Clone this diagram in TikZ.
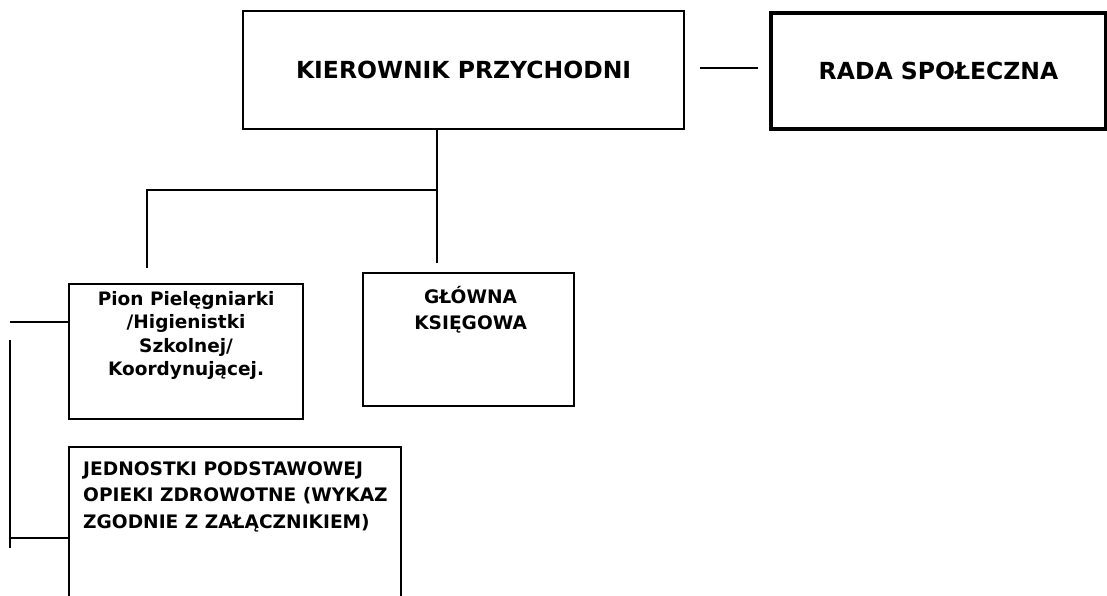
\documentclass[tikz,border=0pt]{standalone}
\usepackage{fontspec}
\setmainfont{DejaVu Sans}
\usetikzlibrary{calc}
\begin{document}
\begin{tikzpicture}[x=1pt,y=-1pt,
  box/.style={draw=black,line width=2.2pt,inner sep=0pt,anchor=north west},
  thickbox/.style={box,line width=4pt},
  conn/.style={draw=black,line width=2.2pt},
  bigtxt/.style={font=\fontsize{23.5}{26}\selectfont\bfseries},
  midtxt/.style={font=\fontsize{18.5}{23.5}\selectfont\bfseries,align=center,inner sep=0pt},
  captxt/.style={font=\fontsize{18.6}{26.5}\selectfont\bfseries,align=left,inner sep=0pt}]
\useasboundingbox[fill=white] (0,0) rectangle (1107,596);
\clip (0,0) rectangle (1107,596);
% boxes
\node[box,minimum width=441pt,minimum height=118pt] (k) at (242,10) {};
\node[bigtxt] (kt) at (k.center) {KIEROWNIK PRZYCHODNI};
\node[thickbox,minimum width=335pt,minimum height=116pt] (r) at (769,11) {};
\node[bigtxt] (rt) at (r.center) {RADA SPOŁECZNA};
\node[box,minimum width=234pt,minimum height=135pt] (p) at (68,283) {};
\node[midtxt,anchor=north] (pt) at ($(p.north)+(0,8)$) {Pion Pielęgniarki\\/Higienistki\\Szkolnej/\\Koordynującej.};
\node[box,minimum width=211pt,minimum height=133pt] (g) at (362,272) {};
\node[captxt,align=center,anchor=north] (gt) at ($(g.north)+(2,14)$) {GŁÓWNA\\KSIĘGOWA};
\node[box,minimum width=332pt,minimum height=200pt] (j) at (68,446) {};
\node[captxt,anchor=north west] (jt) at ($(j.north west)+(15,15)$) {JEDNOSTKI PODSTAWOWEJ\\OPIEKI ZDROWOTNE (WYKAZ\\ZGODNIE Z ZAŁĄCZNIKIEM)};
% connectors
\coordinate (kr1) at ($(k.east)+(15,-2)$);
\coordinate (kr2) at ($(r.west)+(-11,0)$);
\draw[conn] (kr1) -- (kr1 -| kr2);
\coordinate (j1) at (437,190);
\coordinate (c2) at (147,268);
\draw[conn] (k.south -| j1) -- ($(g.north -| j1)+(0,-9)$);
\draw[conn] (j1) -| (c2);
\coordinate (l1) at (10,322);
\coordinate (l2) at (10,340);
\coordinate (l3) at (10,548);
\coordinate (l4) at (10,538);
\draw[conn] (l1) -- (p.west |- l1);
\draw[conn] (l2) -- (l3);
\draw[conn] (l4) -- (j.west |- l4);
\end{tikzpicture}
\end{document}
